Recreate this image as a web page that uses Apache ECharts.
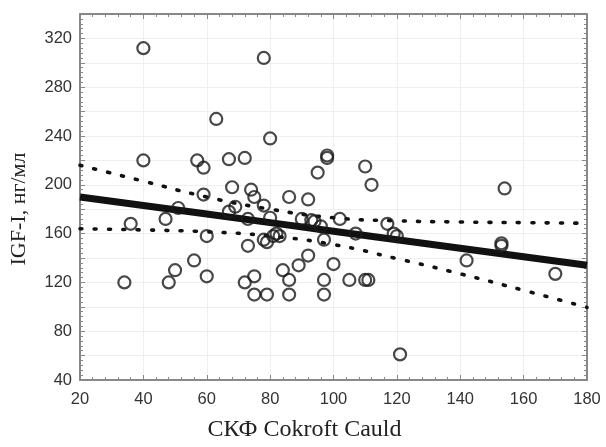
<!DOCTYPE html>
<html>
<head>
<meta charset="utf-8">
<script src="https://cdn.jsdelivr.net/npm/echarts@6/dist/echarts.min.js"></script>
<style>
  html, body { margin: 0; padding: 0; background: #fff; }
  #chart { width: 606px; height: 447px; }
</style>
</head>
<body>
<div id="chart"></div>
<script>
// scatter points: СКФ (x) vs IGF-I (y)
const gfrValues = [34, 36, 40, 40, 47, 48, 50, 51, 56, 57, 59, 59, 60, 60, 63, 67, 67, 68, 69, 72,
  72, 73, 73, 74, 75, 75, 75, 78, 78, 78, 79, 79, 80, 80, 81, 82, 83, 84, 86, 86,
  86, 89, 90, 92, 92, 93, 94, 95, 96, 97, 97, 97, 98, 98, 100, 102, 105, 107, 110, 110,
  111, 112, 117, 119, 120, 121, 142, 153, 153, 154, 170]
const igfValues = [120, 168, 312, 220, 172, 120, 130, 181, 138, 220, 214, 192, 158, 125, 254, 221, 178, 198, 182, 222,
  120, 150, 172, 196, 190, 125, 110, 304, 183, 155, 153, 110, 238, 173, 158, 160, 158, 130, 190, 122,
  110, 134, 172, 188, 142, 171, 170, 210, 166, 155, 122, 110, 224, 222, 135, 172, 122, 160, 215, 122,
  122, 200, 168, 160, 158, 61, 138, 152, 150, 197, 127]

// regression line and confidence band, read at these x positions
const bandX = [20, 40, 60, 80, 100, 120, 140, 160, 180]
const fitLine = [190, 183, 176, 169, 162, 155, 148, 141, 134]
const upperBand = [216, 203, 190, 180, 173, 170.5, 169.5, 169, 168.5]
const lowerBand = [164, 163, 161.5, 158, 151, 139.5, 127, 113.5, 99.5]

const pairs = (xs, ys) => xs.map((x, i) => [x, ys[i]])

const chart = echarts.init(document.getElementById('chart'))

const frame = { show: true, lineStyle: { color: '#888', width: 2 } }
const gridLine = { show: true, lineStyle: { color: '#efefef', width: 1 } }
const tickLabel = { color: '#333', fontSize: 16.5, fontFamily: 'Liberation Sans' }
const dotted = { color: '#111', width: 3.6, type: [2, 12.3], cap: 'round' }
const ticks = { show: true, inside: true, length: 5, lineStyle: { color: '#888' } }
const minor = { show: true, splitNumber: 5, length: 3, lineStyle: { color: '#888' } }

const option = {
  animation: false,
  grid: { left: 76, right: 19, top: 14, bottom: 61, containLabel: false },
  xAxis: [
    {
      type: 'value', min: 20, max: 180, interval: 20,
      name: 'СКФ Cokroft Cauld', nameLocation: 'middle', nameGap: 38,
      nameTextStyle: { fontFamily: 'Liberation Serif', fontSize: 24, color: '#222', padding: [0, 58, 0, 0] },
      axisLine: frame,
      axisTick: ticks,
      minorTick: minor,
      splitLine: gridLine,
      axisLabel: { ...tickLabel, margin: 11 },
    },
    {
      type: 'value', min: 20, max: 180, interval: 20, position: 'top',
      axisLine: frame,
      axisTick: ticks,
      minorTick: minor,
      splitLine: { show: false },
      axisLabel: { show: false },
    },
  ],
  yAxis: [
    {
      type: 'value', min: 40, max: 340, interval: 20,
      name: 'IGF-I, нг/мл', nameLocation: 'middle', nameGap: 50,
      nameTextStyle: { fontFamily: 'Liberation Serif', fontSize: 22, color: '#222', padding: [0, 24, 0, 0] },
      axisLine: frame,
      axisTick: ticks,
      minorTick: minor,
      splitLine: gridLine,
      axisLabel: {
        ...tickLabel, margin: 8,
        formatter: (v) => ((v - 40) % 40 === 0 ? String(v) : ''),
      },
    },
    {
      type: 'value', min: 40, max: 340, interval: 20, position: 'right',
      axisLine: frame,
      axisTick: ticks,
      minorTick: minor,
      splitLine: { show: false },
      axisLabel: { show: false },
    },
  ],
  series: [
    {
      name: 'upper', type: 'line', data: pairs(bandX, upperBand), smooth: true,
      showSymbol: false, lineStyle: dotted, z: 2,
    },
    {
      name: 'lower', type: 'line', data: pairs(bandX, lowerBand), smooth: true,
      showSymbol: false, lineStyle: dotted, z: 2,
    },
    {
      name: 'fit', type: 'line', data: pairs(bandX, fitLine),
      showSymbol: false, lineStyle: { color: '#111', width: 7 }, z: 3,
    },
    {
      name: 'points', type: 'scatter', data: pairs(gfrValues, igfValues),
      symbol: 'circle', symbolSize: 12,
      itemStyle: { color: 'rgba(255,255,255,0)', borderColor: '#1a1a1a', borderWidth: 2.2 },
      z: 4,
    },
  ],
}

chart.setOption(option)
</script>
</body>
</html>
